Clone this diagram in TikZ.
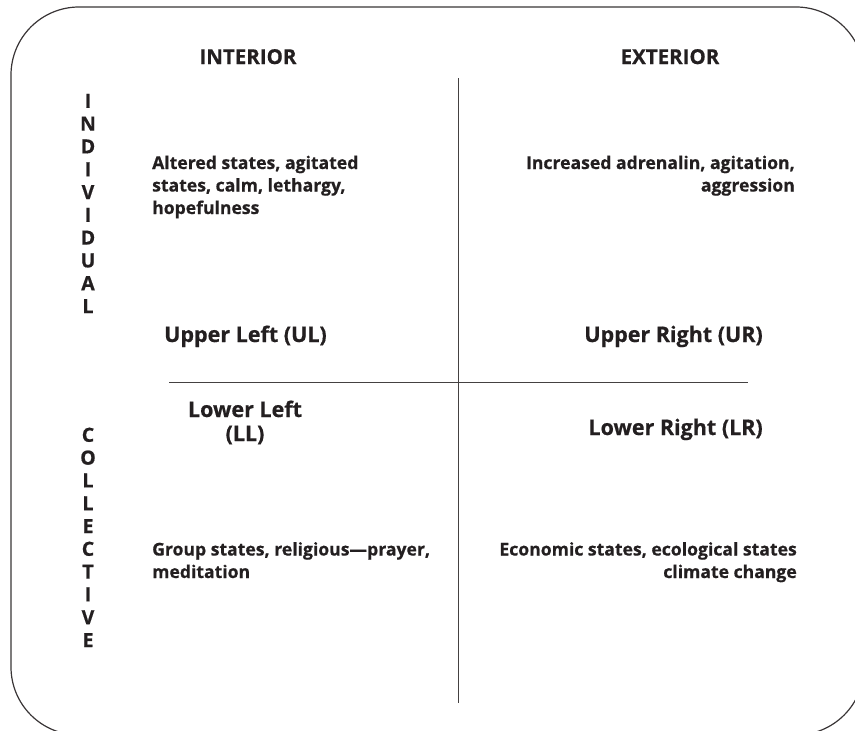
\documentclass[tikz,border=0pt]{standalone}
\usepackage{fontspec}
\setmainfont{Open Sans}[BoldFeatures={FakeBold=0.6}]
\definecolor{ink}{HTML}{231F20}
\tikzset{
  frame/.style={draw=ink!90, line width=1.2pt, rounded corners=68pt},
  axis/.style={draw=ink!85, line width=1pt},
  head/.style={font=\fontsize{20.5}{24}\selectfont\bfseries, text=ink, inner sep=0pt, anchor=base},
  vert/.style={font=\fontsize{19.5}{22.8}\selectfont\bfseries, text=ink, inner sep=0pt, align=center, anchor=base},
  quad/.style={font=\fontsize{21.5}{24}\selectfont\bfseries, text=ink, inner sep=0pt},
  bodyl/.style={font=\fontsize{17.6}{22.5}\selectfont\bfseries, text=ink, inner sep=0pt, align=left, anchor=base west},
  bodyr/.style={font=\fontsize{17.6}{22.5}\selectfont\bfseries, text=ink, inner sep=0pt, align=right, anchor=base east}
}
\begin{document}
\begin{tikzpicture}[x=1pt,y=-1pt]
\useasboundingbox (0,0) rectangle (855,731);
\begin{scope}
  \clip (0,0) rectangle (855,731);
  \draw[frame] (11,7) rectangle (864,735);
\end{scope}

% axes
\coordinate (vtop) at (458,78);
\coordinate (vbot) at (458,703);
\coordinate (hleft) at (169,382);
\coordinate (hright) at (748,382);
\draw[axis] (vtop) -- (vbot);
\draw[axis] (hleft) -- (hright);

% column headings
\node[head] (hInt) at (248,64) {INTERIOR};
\node[head] (hExt) at (670,64) {EXTERIOR};

% row headings, set letter by letter (anchored on the last line)
\node[vert] (vInd) at (88,313) {I\\N\\D\\I\\V\\I\\D\\U\\A\\L};
\node[vert] (vCol) at (88,647) {C\\O\\L\\L\\E\\C\\T\\I\\V\\E};

% quadrant labels
\node[quad, anchor=base west] (lUL) at (164,342) {Upper Left (UL)};
\node[quad, anchor=base east] (lUR) at (763,342) {Upper Right (UR)};
\node[quad, anchor=base, align=center] (lLL) at (245,441) {Lower Left\\(LL)};
\node[quad, anchor=base east] (lLR) at (763,435) {Lower Right (LR)};

% quadrant contents (anchored on the last line)
\node[bodyl] (bUL) at (152,214) {Altered states, agitated\\states, calm, lethargy,\\hopefulness};
\node[bodyr] (bUR) at (795,191.5) {Increased adrenalin, agitation,\\aggression};
\node[bodyl] (bLL) at (152,578) {Group states, religious---prayer,\\meditation};
\node[bodyr] (bLR) at (797,578) {Economic states, ecological states\\climate change};
\end{tikzpicture}
\end{document}
